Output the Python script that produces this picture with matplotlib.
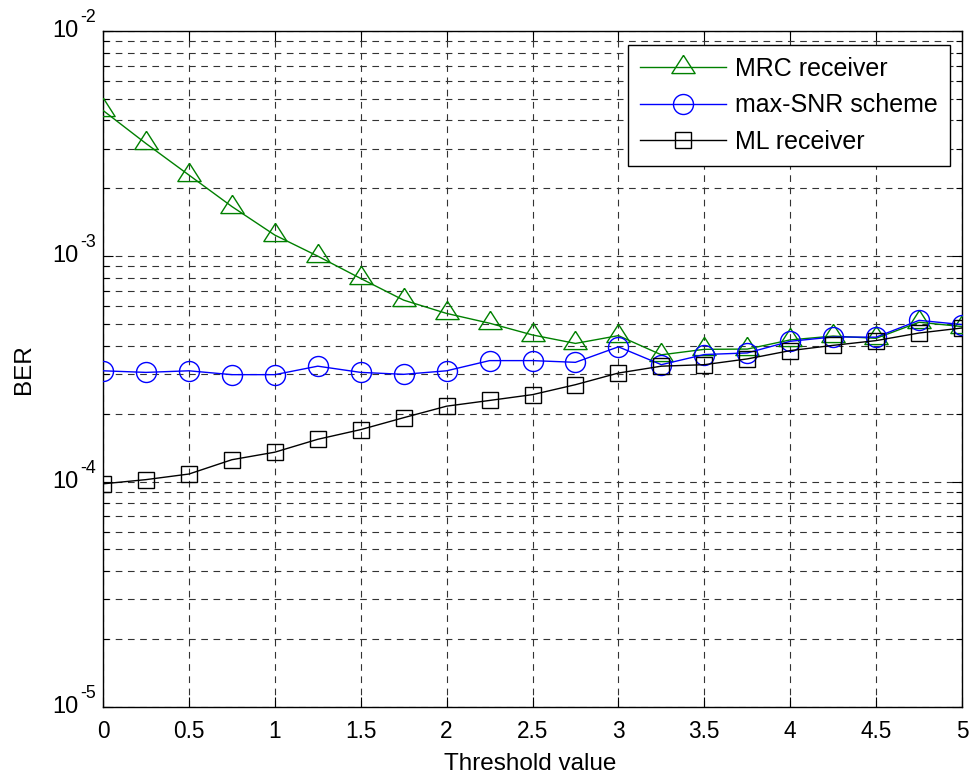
import numpy as np
import matplotlib
matplotlib.use("Agg")
import matplotlib.pyplot as plt
import matplotlib.transforms as mtransforms
from matplotlib.ticker import LogLocator, FixedLocator, NullFormatter

plt.rcParams['font.family'] = ['Liberation Sans', 'DejaVu Sans']

threshold = [0, 0.25, 0.5, 0.75, 1.0, 1.25, 1.5, 1.75, 2.0, 2.25, 2.5,
             2.75, 3.0, 3.25, 3.5, 3.75, 4.0, 4.25, 4.5, 4.75, 5.0]

ber_mrc = [4.43e-3, 3.16e-3, 2.29e-3, 1.66e-3, 1.24e-3, 1.00e-3, 7.96e-4,
           6.38e-4, 5.57e-4, 5.04e-4, 4.47e-4, 4.10e-4, 4.44e-4, 3.65e-4,
           3.86e-4, 3.87e-4, 4.25e-4, 4.42e-4, 4.32e-4, 5.09e-4, 4.87e-4]

ber_maxsnr = [3.10e-4, 3.05e-4, 3.10e-4, 2.98e-4, 2.98e-4, 3.25e-4, 3.05e-4,
              2.99e-4, 3.10e-4, 3.44e-4, 3.44e-4, 3.38e-4, 3.96e-4, 3.30e-4,
              3.66e-4, 3.72e-4, 4.19e-4, 4.38e-4, 4.37e-4, 5.19e-4, 4.97e-4]

ber_ml = [9.77e-5, 1.02e-4, 1.08e-4, 1.25e-4, 1.35e-4, 1.54e-4, 1.70e-4,
          1.92e-4, 2.16e-4, 2.29e-4, 2.43e-4, 2.69e-4, 3.03e-4, 3.25e-4,
          3.30e-4, 3.50e-4, 3.81e-4, 4.02e-4, 4.22e-4, 4.56e-4, 4.80e-4]

x_ticks = [0, 0.5, 1, 1.5, 2, 2.5, 3, 3.5, 4, 4.5, 5]
x_tick_labels = ['0', '0.5', '1', '1.5', '2', '2.5', '3', '3.5', '4', '4.5', '5']
y_exponents = [-5, -4, -3, -2]

# wide triangle with its centroid at the data point
tri = [(0, 12), (-11.5, -6), (11.5, -6), (0, 12)]

W, H = 976, 776
fig = plt.figure(figsize=(W / 100, H / 100), dpi=100)
ax = fig.add_axes([103 / W, 1 - 707 / H, (962 - 103) / W, (707 - 30.7) / H])

green = '#008000'
ax.plot(threshold, ber_mrc, color=green, lw=1.0, marker=tri, ms=17.5,
        mfc='none', mec=green, mew=1.0, label='MRC receiver', zorder=3)
ax.plot(threshold, ber_maxsnr, color='#0000ff', lw=1.0, marker='o', ms=14.4,
        mfc='none', mec='#0000ff', mew=1.0, label='max-SNR scheme', zorder=3)
ax.plot(threshold, ber_ml, color='black', lw=1.0, marker='s', ms=11.5,
        mfc='none', mec='black', mew=1.0, label='ML receiver', zorder=3)

ax.set_yscale('log')
ax.set_xlim(0, 5)
ax.set_ylim(1e-5, 1e-2)
ax.xaxis.set_major_locator(FixedLocator(x_ticks))
ax.set_xticklabels(x_tick_labels)
ax.yaxis.set_major_locator(FixedLocator([10.0 ** e for e in y_exponents]))
ax.yaxis.set_major_formatter(NullFormatter())
ax.yaxis.set_minor_locator(LogLocator(base=10, subs=np.arange(2, 10), numticks=20))
ax.yaxis.set_minor_formatter(NullFormatter())

grid_kw = dict(color='#333333', linestyle=(0, (6, 5)), linewidth=0.8)
ax.grid(True, which='major', axis='both', **grid_kw)
ax.grid(True, which='minor', axis='y', **grid_kw)

ax.tick_params(which='both', direction='in', top=True, right=True, width=0.8)
ax.tick_params(axis='x', which='major', labelsize=16.3, pad=9.2)
ax.tick_params(which='major', length=7)
ax.tick_params(which='minor', length=4)
for s in ax.spines.values():
    s.set_linewidth(1.0)

# y tick labels in "10^n" form: large base, small raised exponent
ytrans = mtransforms.blended_transform_factory(ax.transAxes, ax.transData)
for e in y_exponents:
    base_tr = ytrans + mtransforms.ScaledTranslation(-25 / 100, -6 / 100, fig.dpi_scale_trans)
    exp_tr = ytrans + mtransforms.ScaledTranslation(-22.5 / 100, 9 / 100, fig.dpi_scale_trans)
    ax.text(0, 10.0 ** e, '10', transform=base_tr, ha='right', va='baseline',
            fontsize=17, clip_on=False)
    ax.text(0, 10.0 ** e, str(e), transform=exp_tr, ha='left', va='baseline',
            fontsize=12.8, clip_on=False)

fig.text(530 / W, 1 - 770 / H, 'Threshold value', ha='center', va='baseline',
         fontsize=17.5)
fig.text(23.5 / W, 1 - 369 / H, 'BER', ha='center', va='center',
         rotation=90, fontsize=17.5)

leg = ax.legend(loc='upper right', bbox_to_anchor=(950 / W, 1 - 45 / H),
                bbox_transform=fig.transFigure, fontsize=18, fancybox=False,
                framealpha=1, edgecolor='black', borderpad=0.48,
                labelspacing=0.5, handlelength=3.45, handletextpad=0.37,
                borderaxespad=0)
leg.get_frame().set_linewidth(1.0)

fig.savefig('out.png', dpi=100)
